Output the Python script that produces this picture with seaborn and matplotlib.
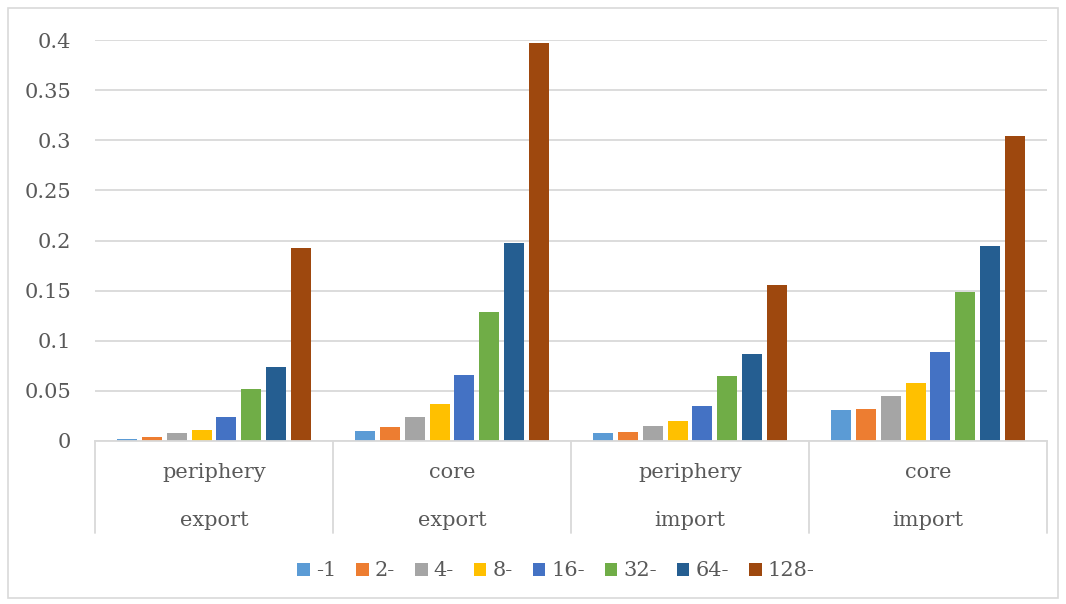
import matplotlib
matplotlib.use("Agg")
import matplotlib.pyplot as plt
import matplotlib.transforms as mtransforms
from matplotlib.patches import Patch, Rectangle
import seaborn as sns
import pandas as pd

# Category levels
region = ["periphery", "core", "periphery", "core"]
flow = ["export", "export", "import", "import"]

# Size classes (series)
classes = ["-1", "2-", "4-", "8-", "16-", "32-", "64-", "128-"]

# Values per size class, one entry per category
v_1 = [0.002, 0.010, 0.008, 0.031]
v_2 = [0.004, 0.014, 0.009, 0.032]
v_4 = [0.008, 0.024, 0.015, 0.045]
v_8 = [0.011, 0.037, 0.020, 0.058]
v_16 = [0.024, 0.066, 0.035, 0.089]
v_32 = [0.052, 0.129, 0.065, 0.149]
v_64 = [0.074, 0.198, 0.087, 0.195]
v_128 = [0.193, 0.397, 0.156, 0.304]

colors = ["#5B9BD5", "#ED7D31", "#A5A5A5", "#FFC000",
          "#4472C4", "#70AD47", "#255E91", "#9E480E"]

series = [v_1, v_2, v_4, v_8, v_16, v_32, v_64, v_128]
cat_keys = [f"{r}\n{f}" for r, f in zip(region, flow)]
rows = []
for cls, vals in zip(classes, series):
    for key, v in zip(cat_keys, vals):
        rows.append({"category": key, "class": cls, "value": v})
df = pd.DataFrame(rows)

sns.set_theme(style="white")
plt.rcParams["font.family"] = ["DejaVu Serif"]
text_color = "#595959"
grid_color = "#D9D9D9"
fs = 15

W, H = 1066, 604
fig = plt.figure(figsize=(W / 100, H / 100), dpi=100)
fig.patch.set_facecolor("white")

# Outer chart border
fig.add_artist(Rectangle((8 / W, 6 / H), (W - 16) / W, (H - 14) / H,
                         transform=fig.transFigure, fill=False,
                         edgecolor=grid_color, linewidth=1.2))

ax = fig.add_axes([95 / W, (H - 441) / H, 952 / W, 401 / H])

sns.barplot(data=df, x="category", y="value", hue="class",
            order=cat_keys, hue_order=classes, palette=colors,
            width=0.84, gap=0.2, saturation=1, legend=False,
            edgecolor="none", ax=ax)

ax.set_xlim(-0.5, 3.5)
ax.set_ylim(0, 0.4)
ax.set_yticks([0, 0.05, 0.1, 0.15, 0.2, 0.25, 0.3, 0.35, 0.4])
ax.set_yticklabels(["0", "0.05", "0.1", "0.15", "0.2", "0.25", "0.3", "0.35", "0.4"])
ax.tick_params(axis="y", length=0, pad=17, labelsize=fs, labelcolor=text_color)
ax.set_xticks([])
ax.set_xlabel("")
ax.set_ylabel("")
ax.grid(axis="y", color=grid_color, linewidth=1.3)
ax.set_axisbelow(True)
for side in ["top", "right", "left"]:
    ax.spines[side].set_visible(False)
ax.spines["bottom"].set_color(grid_color)
ax.spines["bottom"].set_linewidth(1.3)

# Two-level category axis
trans = mtransforms.blended_transform_factory(ax.transData, ax.transAxes)
sep_depth = -(533 - 441) / 401
for xb in [-0.5, 0.5, 1.5, 2.5, 3.5]:
    ax.plot([xb, xb], [0, sep_depth], transform=trans, color=grid_color,
            linewidth=1.3, clip_on=False)
y1 = -(473 - 441) / 401
y2 = -(520 - 441) / 401
for i, (r, f) in enumerate(zip(region, flow)):
    ax.text(i, y1, r, transform=trans, ha="center", va="center",
            fontsize=fs, color=text_color)
    ax.text(i, y2, f, transform=trans, ha="center", va="center",
            fontsize=fs, color=text_color)

handles = [Patch(facecolor=c, edgecolor="none", label=l) for c, l in zip(colors, classes)]
fig.legend(handles=handles, loc="center", bbox_to_anchor=(556 / W, (H - 571) / H),
           ncol=8, frameon=False, fontsize=fs, handlelength=0.6,
           handleheight=0.6, handletextpad=0.3, columnspacing=0.95,
           labelcolor=text_color)

fig.savefig("out.png", dpi=100, facecolor="white")
